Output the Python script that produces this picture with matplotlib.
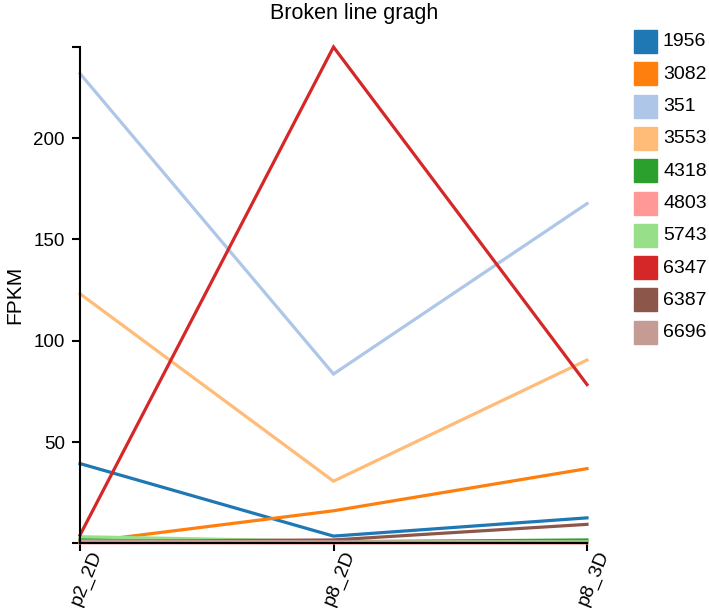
import matplotlib
matplotlib.use('Agg')
import matplotlib.pyplot as plt
import matplotlib.transforms as mtransforms
from matplotlib.patches import Rectangle

plt.rcParams['font.family'] = ['Liberation Sans', 'DejaVu Sans']

samples = ['p2_2D', 'p8_2D', 'p8_3D']
genes = ['1956', '3082', '351', '3553', '4318', '4803', '5743', '6347', '6387', '6696']
colors = ['#1f77b4', '#ff7f0e', '#aec7e8', '#ffbb78', '#2ca02c',
          '#ff9896', '#98df8a', '#d62728', '#8c564b', '#c49c94']

g1956 = [39.4, 3.6, 12.6]
g3082 = [0.4, 16.1, 36.9]
g351 = [231.9, 83.6, 167.7]
g3553 = [123.2, 30.7, 90.5]
g4318 = [2.0, 0.8, 1.7]
g4803 = [0.3, 0.2, 0.2]
g5743 = [3.3, 1.0, 0.8]
g6347 = [4.1, 245.0, 78.4]
g6387 = [1.0, 1.7, 9.4]
g6696 = [1.2, 0.8, 0.5]
values = [g1956, g3082, g351, g3553, g4318, g4803, g5743, g6347, g6387, g6696]

W, H = 709, 608
fig = plt.figure(figsize=(W / 100, H / 100), dpi=100)
ax = fig.add_axes([80 / W, 1 - 543.4 / H, (587 - 80) / W, (543.4 - 47) / H])

x = list(range(len(samples)))
for vals, c in zip(values, colors):
    ax.plot(x, vals, color=c, lw=2.3, clip_on=False, solid_joinstyle='miter')

ymax = max(max(v) for v in values)
ax.set_xlim(0, len(samples) - 1)
ax.set_ylim(0, ymax)
ax.margins(0)

for s in ['top', 'right']:
    ax.spines[s].set_visible(False)
for s in ['left', 'bottom']:
    ax.spines[s].set_linewidth(1.5)
    ax.spines[s].set_color('black')

yt = [0, 50, 100, 150, 200, ymax]
ax.set_yticks(yt)
ax.set_yticklabels(['', '50', '100', '150', '200', ''])
ax.set_xticks(x)
ax.set_xticklabels(samples, rotation=68, ha='right', va='top', rotation_mode='anchor')
ax.tick_params(axis='both', length=6, width=1.5, labelsize=13.5, color='black')
ax.tick_params(axis='y', pad=5)
ax.tick_params(axis='x', pad=0, labelsize=14)
shift = mtransforms.ScaledTranslation(9 / 100, 4 / 100, fig.dpi_scale_trans)
for lbl in ax.get_xticklabels():
    lbl.set_transform(lbl.get_transform() + shift)

ax.set_ylabel('FPKM', fontsize=15)
ax.yaxis.set_label_coords(-56 / (587 - 80), 0.5)
fig.text(354 / W, 1 - 13 / H, 'Broken line gragh', ha='center', va='center', fontsize=15.5)

# legend drawn by hand
for i, (name, c) in enumerate(zip(genes, colors)):
    top = 30 + i * 32.3
    fig.patches.append(Rectangle((634 / W, 1 - (top + 23) / H), 23 / W, 23 / H,
                                 transform=fig.transFigure, color=c))
    fig.text(663 / W, 1 - (top + 12) / H, name, ha='left', va='center', fontsize=14)

fig.savefig('out.png', dpi=100)
